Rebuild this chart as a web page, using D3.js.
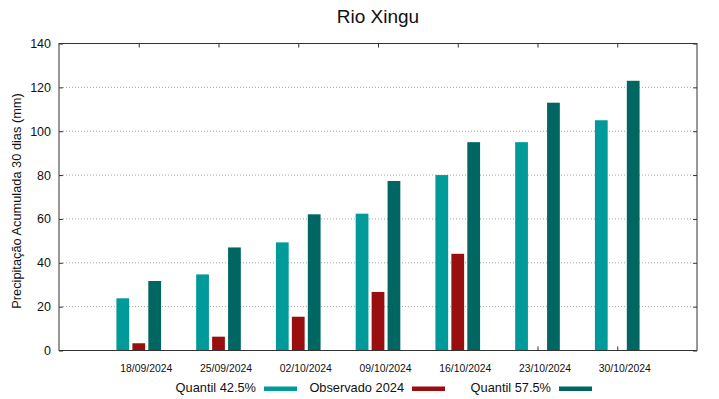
<!DOCTYPE html>
<html>
<head>
<meta charset="utf-8">
<script src="https://cdn.jsdelivr.net/npm/d3@7"></script>
<style>
  html, body { margin: 0; padding: 0; background: #fff; }
  svg { display: block; font-family: "Liberation Sans", Arial, sans-serif; }
</style>
</head>
<body>
<svg id="chart" width="719" height="399"></svg>
<script>
const categories = ["18/09/2024", "25/09/2024", "02/10/2024", "09/10/2024", "16/10/2024", "23/10/2024", "30/10/2024"];
const quantil425 = [23.8, 34.7, 49.3, 62.4, 80.0, 95.0, 105.0];
const observado2024 = [3.3, 6.3, 15.4, 26.7, 44.1, null, null];
const quantil575 = [31.7, 47.0, 62.1, 77.3, 95.0, 113.0, 123.0];
const yTicks = [0, 20, 40, 60, 80, 100, 120, 140];
const seriesNames = ["Quantil 42.5%", "Observado 2024", "Quantil 57.5%"];
const seriesColors = ["#009a9a", "#990f0f", "#006662"];

const svg = d3.select("#chart");
const pLeft = 59, pRight = 697, pTop = 43.5, pBottom = 350.5;

const x = d3.scaleLinear().domain([0, categories.length + 1]).range([pLeft, pRight]);
const y = d3.scaleLinear().domain([0, 140]).range([pBottom, pTop]);

// Grid lines
svg.append("g").selectAll("line")
  .data(yTicks.filter(v => v > 0 && v < 140))
  .join("line")
  .attr("x1", pLeft + 4).attr("x2", pRight - 4)
  .attr("y1", d => y(d)).attr("y2", d => y(d))
  .attr("stroke", "#a0a0a0").attr("stroke-width", 1)
  .attr("stroke-dasharray", "1,2");

const axisColor = "#333";
function styleAxis(g) {
  g.select(".domain").remove();
  g.selectAll(".tick line").attr("stroke", axisColor);
  g.selectAll("text").attr("fill", "#111");
}

// Left axis
svg.append("g").attr("transform", `translate(${pLeft},0)`)
  .call(d3.axisLeft(y).tickValues(yTicks).tickSize(-4).tickPadding(8).tickFormat(d3.format("d")))
  .call(styleAxis)
  .call(g => g.selectAll("text").style("font-size", "12.5px"));

// Right axis (ticks only)
svg.append("g").attr("transform", `translate(${pRight},0)`)
  .call(d3.axisRight(y).tickValues(yTicks).tickSize(-4).tickFormat(""))
  .call(styleAxis);

// Top axis (ticks only)
svg.append("g").attr("transform", `translate(0,${pTop})`)
  .call(d3.axisTop(x).tickValues(d3.range(1, categories.length + 1)).tickSize(-4).tickFormat(""))
  .call(styleAxis);

// Bottom axis
svg.append("g").attr("transform", `translate(0,${pBottom})`)
  .call(d3.axisBottom(x).tickValues(d3.range(1, categories.length + 1)).tickSize(-4)
    .tickFormat(i => categories[i - 1]))
  .call(styleAxis)
  .call(g => g.selectAll("text")
    .attr("y", 21).attr("dy", 0).attr("dx", 7)
    .style("font-size", "10.4px"));

// Bars
const allSeries = [quantil425, observado2024, quantil575];
const offsets = [-0.2, 0, 0.2];
const bw = 0.16;
allSeries.forEach((vals, si) => {
  svg.append("g").selectAll("rect")
    .data(vals.map((v, i) => ({ v, i })).filter(d => d.v != null))
    .join("rect")
    .attr("x", d => x(d.i + 1 + offsets[si] - bw / 2))
    .attr("width", d => x(bw) - x(0))
    .attr("y", d => y(d.v))
    .attr("height", d => y(0) - y(d.v))
    .attr("fill", seriesColors[si]);
});

// Frame
svg.append("rect")
  .attr("x", pLeft).attr("y", pTop)
  .attr("width", pRight - pLeft).attr("height", pBottom - pTop)
  .attr("fill", "none").attr("stroke", axisColor).attr("stroke-width", 1);

// Title
svg.append("text")
  .attr("x", (pLeft + pRight) / 2).attr("y", 23)
  .attr("text-anchor", "middle")
  .style("font-size", "19px").attr("fill", "#111")
  .text("Rio Xingu");

// Y label
svg.append("text")
  .attr("transform", `translate(21,${(pTop + pBottom) / 2 + 4}) rotate(-90)`)
  .attr("text-anchor", "middle")
  .style("font-size", "12.8px").attr("fill", "#111")
  .text("Precipitação Acumulada 30 dias (mm)");

// Legend
const swatchX = [264, 412, 559];
const legend = svg.append("g");
seriesNames.forEach((name, i) => {
  legend.append("text")
    .attr("x", swatchX[i] - 8).attr("y", 392)
    .attr("text-anchor", "end")
    .style("font-size", "12.8px").attr("fill", "#111")
    .text(name);
  legend.append("rect")
    .attr("x", swatchX[i]).attr("y", 386.5)
    .attr("width", 33).attr("height", 4.5)
    .attr("fill", seriesColors[i]);
});
</script>
</body>
</html>
